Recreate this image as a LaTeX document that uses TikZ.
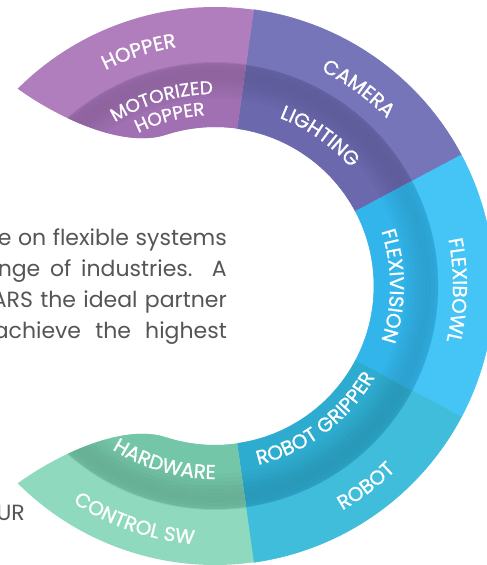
\documentclass[tikz,border=0pt]{standalone}
\usepackage{fontspec}
\setmainfont{Poppins}
\newfontfamily\labelfont{Poppins}[FakeBold=0.9]
\usetikzlibrary{decorations.text}
\definecolor{hopper}{HTML}{B07EBC}
\definecolor{motorized}{HTML}{A070B2}
\definecolor{camera}{HTML}{7775B9}
\definecolor{lighting}{HTML}{6B68AE}
\definecolor{flexibowl}{HTML}{45C5F5}
\definecolor{flexivision}{HTML}{32B5EA}
\definecolor{robot}{HTML}{40BDDA}
\definecolor{gripper}{HTML}{2EACD0}
\definecolor{controlsw}{HTML}{8FDABF}
\definecolor{hardware}{HTML}{74C6A8}
\definecolor{txtgray}{HTML}{555555}
\newcommand\lbl{\labelfont\fontsize{20pt}{20pt}\selectfont}
\newcommand\smlbl{\labelfont\fontsize{18.5pt}{18.5pt}\selectfont}
\def\tailpath{(82:279) arc[start angle=82, end angle=135, radius=279] .. controls (-157.5,168.5) and (-91.9,137.3) .. (108:159) arc[start angle=108, end angle=82, radius=159] -- cycle}
\newcommand\bandshadow{%
  \foreach \r/\o in {190/.02, 194/.04, 198/.06, 202/.08, 206/.09, 210/.1, 214/.1, 218/.09, 222/.07}{
    \fill[black, opacity=\o, even odd rule] (0,0) circle[radius=\r-2] circle[radius=\r+2];
  }}
\tikzset{
  para/.style={text=txtgray, font=\fontsize{22pt}{22pt}\selectfont, inner sep=0pt},
  arctext/.style={decorate, decoration={text along path, text align=center, text color=white, text={#1}}},
}
\begin{document}
\begin{tikzpicture}[x=1pt, y=1pt]
  \useasboundingbox (-215,-279) rectangle (272,286);
  \clip (-215,-279) rectangle (272,286);
  % ring
  \foreach \a/\b/\co/\ci in {28/82/camera/lighting, -28/28/flexibowl/flexivision, -82/-28/robot/gripper}{
    \filldraw[fill=\co, draw=\co, line width=.6] (\a:223) arc[start angle=\a, end angle=\b, radius=223] -- (\b:279) arc[start angle=\b, end angle=\a, radius=279] -- cycle;
    \filldraw[fill=\ci, draw=\ci, line width=.6] (\a:159) arc[start angle=\a, end angle=\b, radius=159] -- (\b:223) arc[start angle=\b, end angle=\a, radius=223] -- cycle;
    \begin{scope}
      \clip (\a:159) arc[start angle=\a, end angle=\b, radius=159] -- (\b:223) arc[start angle=\b, end angle=\a, radius=223] -- cycle;
      \bandshadow
    \end{scope}
  }
  % tails
  \foreach \s/\co/\ci in {1/hopper/motorized, -1/controlsw/hardware}{
    \begin{scope}[yscale=\s]
      \clip \tailpath;
      \fill[\co] (-250,0) rectangle (50,300);
      \fill[\ci] (0,0) circle[radius=223];
      \bandshadow
    \end{scope}
  }
  % labels
  \path[arctext={|\lbl|HOPPER}] (148:242) arc[start angle=148, end angle=68, radius=242];
  \path[arctext={|\smlbl|MOTORIZED}] (146:192) arc[start angle=146, end angle=66, radius=192];
  \path[arctext={|\smlbl|HOPPER}] (145:171) arc[start angle=145, end angle=65, radius=171];
  \path[arctext={|\lbl|CAMERA}] (94:240) arc[start angle=94, end angle=14, radius=240];
  \path[arctext={|\lbl|LIGHTING}] (95:180) arc[start angle=95, end angle=15, radius=180];
  \path[arctext={|\lbl|FLEXIBOWL}] (39:238) arc[start angle=39, end angle=-41, radius=238];
  \path[arctext={|\lbl|FLEXIVISION}] (40:175) arc[start angle=40, end angle=-40, radius=175];
  \path[arctext={|\lbl|ROBOT GRIPPER}] (-93:184) arc[start angle=-93, end angle=-13, radius=184];
  \path[arctext={|\lbl|ROBOT}] (-93:258) arc[start angle=-93, end angle=-13, radius=258];
  \path[arctext={|\lbl|HARDWARE}] (-146:193) arc[start angle=-146, end angle=-66, radius=193];
  \path[arctext={|\lbl|CONTROL SW}] (-149:259) arc[start angle=-149, end angle=-69, radius=259];
  % text
  \node[para, anchor=base east] (line1) at (12,41) {\makebox[229pt][s]{e on flexible systems}};
  \node[para, anchor=base east] (line2) at (12,10) {\makebox[229pt][s]{nge of industries. A}};
  \node[para, anchor=base east] (line3) at (12,-21) {\makebox[235pt][s]{ARS the ideal partner}};
  \node[para, anchor=base east] (line4) at (12,-52) {\makebox[233pt][s]{achieve the highest}};
  \node[para, anchor=base east] (line5) at (-190,-234) {UR};
\end{tikzpicture}
\end{document}
